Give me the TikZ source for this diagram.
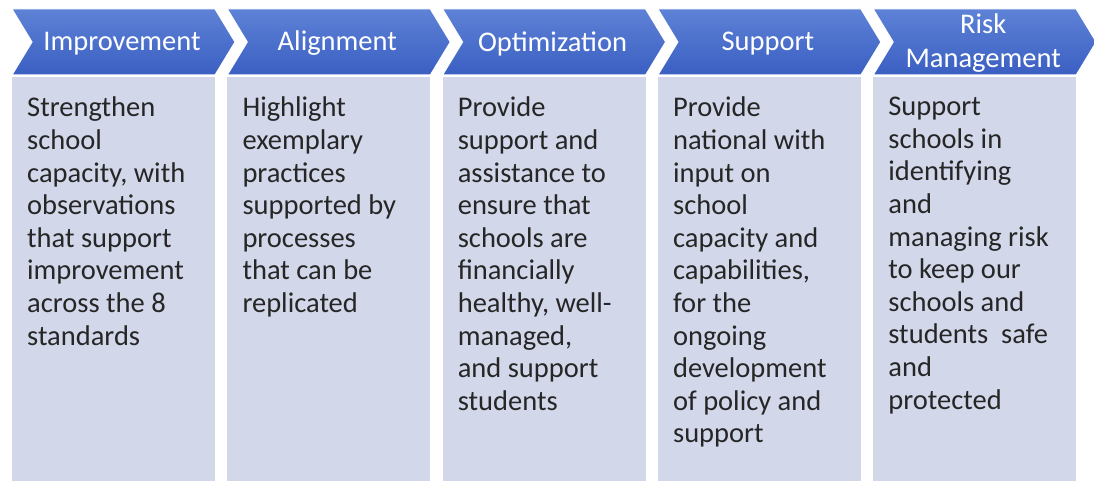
\documentclass[tikz,border=0pt]{standalone}
\usepackage{fontspec}
\setmainfont{Carlito}
\definecolor{chevtop}{HTML}{5E82D6}
\definecolor{chevbot}{HTML}{3A5FC2}
\definecolor{colfill}{HTML}{D2D7EA}
\definecolor{bodytext}{HTML}{262626}
\tikzset{
  chevron/.style={top color=chevtop,bottom color=chevbot,draw=white,line width=1pt},
  column/.style={fill=colfill},
  headtext/.style={text=white,align=center,inner sep=0pt,
    font=\fontsize{28.5}{34}\selectfont},
  bodytxt/.style={text=bodytext,align=left,inner sep=0pt,anchor=north west,
    font=\fontsize{28.5}{32.6}\selectfont}
}
\begin{document}
\begin{tikzpicture}[x=1pt,y=-1pt]
  \useasboundingbox (0,0) rectangle (1094,481);
  \fill[white] (0,0) rectangle (1094,481);
  \foreach \i/\head/\body [evaluate=\i as \l using 12+215.3*\i] in {
    0/Improvement/{Strengthen\\school\\capacity, with\\observations\\that support\\improvement\\across the 8\\standards},
    1/Alignment/{Highlight\\exemplary\\practices\\supported by\\processes\\that can be\\replicated},
    2/Optimization/{Provide\\support and\\assistance to\\ensure that\\schools are\\financially\\healthy, well-\\managed,\\and support\\students},
    3/Support/{Provide\\national with\\input on\\school\\capacity and\\capabilities,\\for the\\ongoing\\development\\of policy and\\support},
    4/{Risk\\Management}/{Support\\schools in\\identifying\\and\\managing risk\\to keep our\\schools and\\students~ safe\\and\\protected}}{
    \fill[column] (\l,77) rectangle ++(203,410);
    \shade[chevron] (\l,9) -- ++(203,0) -- ++(20,33) -- ++(-20,33)
      -- ++(-203,0) -- ++(20,-33) -- cycle;
    \node[headtext] (head\i) at (\l+110,43.5) {\head};
    \node[bodytxt] (body\i) at (\l+15,97) {\body};
  }
\end{tikzpicture}
\end{document}
